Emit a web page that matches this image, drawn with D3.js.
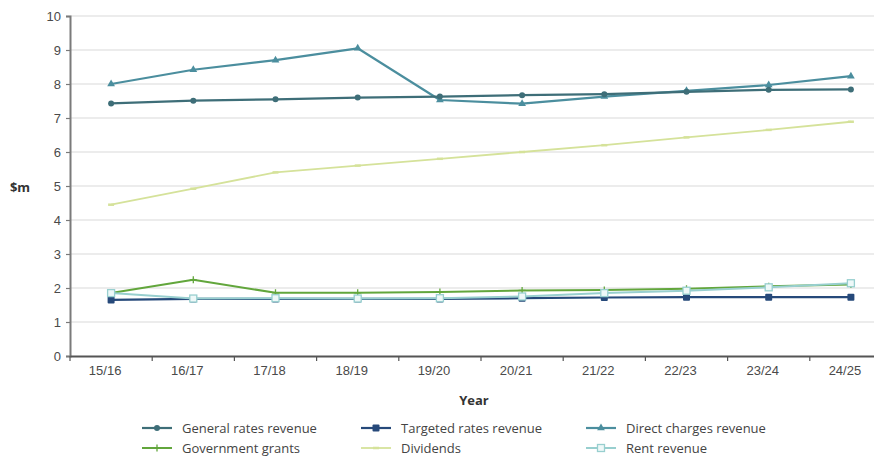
<!DOCTYPE html>
<html>
<head>
<meta charset="utf-8">
<script src="https://cdn.jsdelivr.net/npm/d3@7"></script>
<style>
  html, body { margin: 0; padding: 0; background: #fff; }
  svg { display: block; font-family: "Open Sans", "Noto Sans", sans-serif; }
</style>
</head>
<body>
<svg id="chart" width="874" height="462"></svg>
<script>
// Financial years on the x axis
const years = ["15/16", "16/17", "17/18", "18/19", "19/20", "20/21", "21/22", "22/23", "23/24", "24/25"];

// Revenue by source, $m
const generalRates   = [7.43, 7.51, 7.55, 7.60, 7.63, 7.67, 7.70, 7.77, 7.83, 7.84];
const targetedRates  = [1.65, 1.68, 1.68, 1.68, 1.68, 1.70, 1.72, 1.73, 1.73, 1.73];
const directCharges  = [8.00, 8.42, 8.70, 9.05, 7.53, 7.42, 7.63, 7.80, 7.97, 8.23];
const govtGrants     = [1.85, 2.24, 1.86, 1.86, 1.88, 1.93, 1.94, 1.98, 2.05, 2.10];
const dividends      = [4.45, 4.92, 5.40, 5.60, 5.80, 6.00, 6.20, 6.43, 6.65, 6.89];
const rentRevenue    = [1.85, 1.69, 1.70, 1.69, 1.70, 1.75, 1.85, 1.92, 2.02, 2.14];

const yTicks = [0, 1, 2, 3, 4, 5, 6, 7, 8, 9, 10];

const series = [
  { name: "General rates revenue",  values: generalRates,  color: "#3e6e78", width: 2.2, marker: "circle" },
  { name: "Targeted rates revenue", values: targetedRates, color: "#26497a", width: 2.2, marker: "square" },
  { name: "Direct charges revenue", values: directCharges, color: "#4b8e9e", width: 2.2, marker: "triangle" },
  { name: "Government grants",      values: govtGrants,    color: "#62a63c", width: 2.0, marker: "cross" },
  { name: "Dividends",              values: dividends,     color: "#d5e29a", width: 1.8, marker: "dash" },
  { name: "Rent revenue",           values: rentRevenue,   color: "#98cfcf", width: 2.0, marker: "hollowSquare" }
];

// Draw order: rent sits over targeted rates, general rates on top
const drawOrder = [4, 3, 2, 1, 5, 0];

const svg = d3.select("#chart");
const plot = { left: 70, right: 892, top: 16, bottom: 356 };

const x = d3.scaleBand().domain(years).range([plot.left, plot.right]);
const y = d3.scaleLinear().domain([0, 10]).range([plot.bottom, plot.top]);

// Horizontal gridlines
svg.append("g")
  .selectAll("line")
  .data(yTicks.filter(d => d > 0))
  .join("line")
  .attr("x1", plot.left).attr("x2", plot.right)
  .attr("y1", d => y(d)).attr("y2", d => y(d))
  .attr("stroke", "#dadada").attr("stroke-width", 1.2);

// Y axis
const yAxis = svg.append("g")
  .attr("transform", `translate(${plot.left},0)`)
  .call(d3.axisLeft(y).tickValues(yTicks).tickSize(4).tickPadding(5).tickFormat(d3.format("d")));
yAxis.select(".domain").attr("stroke", "#7a7a7a").attr("stroke-width", 2);
yAxis.selectAll(".tick line").attr("stroke", "#7a7a7a").attr("stroke-width", 1.2);
yAxis.selectAll(".tick text").attr("fill", "#4a4a4a").style("font-size", "13px");

// X axis with tick marks between categories
const xAxis = svg.append("g")
  .attr("transform", `translate(0,${plot.bottom})`)
  .call(d3.axisBottom(x).tickSize(0).tickPadding(10).tickSizeOuter(0));
xAxis.select(".domain").attr("stroke", "#555").attr("stroke-width", 2);
xAxis.selectAll(".tick text").attr("fill", "#4a4a4a").style("font-size", "13px").attr("dx", "-6");
xAxis.selectAll(".tick line").remove();
xAxis.append("g")
  .selectAll("line")
  .data(years)
  .join("line")
  .attr("x1", d => x(d)).attr("x2", d => x(d))
  .attr("y1", 0).attr("y2", 5)
  .attr("stroke", "#555").attr("stroke-width", 1.2);

// Axis titles
svg.append("text")
  .attr("x", 20).attr("y", 192)
  .attr("text-anchor", "middle")
  .style("font-size", "13px").style("font-weight", "bold").attr("fill", "#333")
  .text("$m");
svg.append("text")
  .attr("x", 474).attr("y", 405)
  .attr("text-anchor", "middle")
  .style("font-size", "13px").style("font-weight", "bold").attr("fill", "#333")
  .text("Year");

// Marker drawing helper
function drawMarker(g, type, color, cx, cy) {
  switch (type) {
    case "circle":
      g.append("circle").attr("cx", cx).attr("cy", cy).attr("r", 3).attr("fill", color);
      break;
    case "square":
      g.append("rect").attr("x", cx - 3.5).attr("y", cy - 3.5).attr("width", 7).attr("height", 7)
        .attr("rx", 1).attr("fill", color);
      break;
    case "triangle":
      g.append("path").attr("d", d3.symbol(d3.symbolTriangle, 26)()).attr("transform", `translate(${cx},${cy})`)
        .attr("fill", color);
      break;
    case "cross":
      g.append("path").attr("d", `M${cx - 3.5},${cy}H${cx + 3.5}M${cx},${cy - 3.5}V${cy + 3.5}`)
        .attr("stroke", color).attr("stroke-width", 1.3);
      break;
    case "dash":
      g.append("path").attr("d", `M${cx - 3},${cy}H${cx + 3}`).attr("stroke", color).attr("stroke-width", 2.5);
      break;
    case "hollowSquare":
      g.append("rect").attr("x", cx - 3.5).attr("y", cy - 3.5).attr("width", 7).attr("height", 7)
        .attr("fill", "#eef8f8").attr("stroke", color).attr("stroke-width", 1.3);
      break;
  }
}

const cx = d => x(d) + x.bandwidth() / 2;
const line = d3.line().x((d, i) => cx(years[i])).y(d => y(d));

drawOrder.forEach(idx => {
  const s = series[idx];
  const g = svg.append("g");
  g.append("path")
    .attr("d", line(s.values))
    .attr("fill", "none")
    .attr("stroke", s.color)
    .attr("stroke-width", s.width)
    .attr("stroke-linejoin", "round");
  s.values.forEach((v, i) => drawMarker(g, s.marker, s.color, cx(years[i]), y(v)));
});

// Legend in three columns, two rows
const legendCols = [142, 361, 586];
const legendRows = [428, 448];
series.forEach((s, i) => {
  const lx = legendCols[i % 3];
  const ly = legendRows[Math.floor(i / 3)];
  const g = svg.append("g");
  g.append("line").attr("x1", lx).attr("x2", lx + 30).attr("y1", ly).attr("y2", ly)
    .attr("stroke", s.color).attr("stroke-width", s.width);
  drawMarker(g, s.marker, s.color, lx + 15, ly);
  g.append("text").attr("x", lx + 40).attr("y", ly + 4.5)
    .style("font-size", "13px").attr("fill", "#444")
    .text(s.name);
});
</script>
</body>
</html>
